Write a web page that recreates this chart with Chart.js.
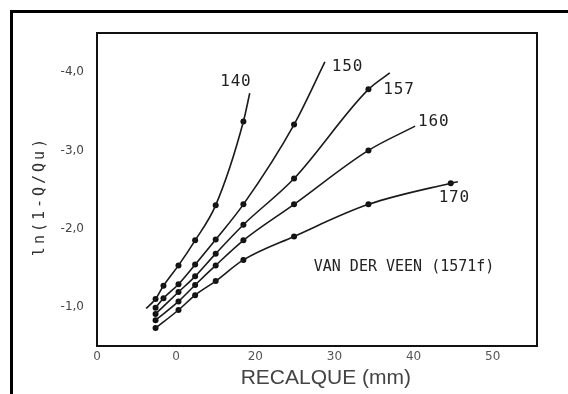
<!DOCTYPE html>
<html>
<head>
<meta charset="utf-8">
<script src="https://cdn.jsdelivr.net/npm/chart.js@4.4.1/dist/chart.umd.min.js"></script>
<style>
  html, body { margin: 0; padding: 0; background: #fff; }
  #wrap { width: 568px; height: 394px; }
</style>
</head>
<body>
<div id="wrap"><canvas id="chart" width="568" height="394"></canvas></div>
<script>
// settlement (mm) of each load step, shared by all curves
const recalque = [7.4, 8.4, 10.3, 12.4, 15.0, 18.5, 24.9, 34.3, 44.7];

// ln(1-Q/Qu) for each assumed ultimate load Qu (null = no point drawn)
const ln140 = [-1.10, -1.27, -1.53, -1.85, -2.30, -3.37];
const ln150 = [-0.99, -1.11, -1.29, -1.54, -1.86, -2.31, -3.33];
const ln157 = [-0.91, null, -1.19, -1.39, -1.68, -2.05, -2.64, -3.78];
const ln160 = [-0.83, null, -1.07, -1.28, -1.53, -1.85, -2.31, -3.00];
const ln170 = [-0.73, null, -0.96, -1.15, -1.33, -1.60, -1.90, -2.31, -2.58];

// the hand drawn curves run a little past the points
const curveStart140 = [6.2, -0.98];
const curveEnd140 = [19.3, -3.73];
const curveEnd150 = [28.8, -4.13];
const curveEnd157 = [37.0, -3.99];
const curveEnd160 = [40.2, -3.31];
const curveEnd170 = [45.6, -2.60];

const xTicks = [0, 10, 20, 30, 40, 50];
const xTickLabels = ['0', '0', '20', '30', '40', '50'];
const yTicks = [-1, -2, -3, -4];

// text written on the plot: [text, x, y] in data units
const curveLabels = [
    ['140', 17.5, -3.88],
    ['150', 31.6, -4.07],
    ['157', 38.1, -3.77],
    ['160', 42.5, -3.36],
    ['170', 45.1, -2.39]
];
const note = ['VAN DER VEEN (1571f)', 38.8, -1.51];

function toPoints(ys) {
    return ys.map((y, i) => y === null ? null : { x: recalque[i], y: y }).filter(p => p);
}

function curve(ys, start, end) {
    const pts = toPoints(ys);
    const out = [];
    if (start) out.push({ x: start[0], y: start[1] });
    pts.forEach(p => out.push(p));
    if (end) out.push({ x: end[0], y: end[1] });
    return out;
}

const lineStyle = {
    showLine: true,
    borderColor: '#1a1a1a',
    borderWidth: 1.6,
    pointRadius: 0,
    cubicInterpolationMode: 'monotone',
    fill: false
};
const dotStyle = {
    showLine: false,
    pointRadius: 3,
    pointBackgroundColor: '#111',
    pointBorderColor: '#111',
    pointBorderWidth: 0
};

const series = [
    [ln140, curveStart140, curveEnd140],
    [ln150, null, curveEnd150],
    [ln157, null, curveEnd157],
    [ln160, null, curveEnd160],
    [ln170, null, curveEnd170]
];

const datasets = [];
series.forEach(s => {
    datasets.push(Object.assign({ data: curve(s[0], s[1], s[2]) }, lineStyle));
});
series.forEach(s => {
    datasets.push(Object.assign({ data: toPoints(s[0]) }, dotStyle));
});

const decor = {
    id: 'decor',
    beforeDraw(chart) {
        const c = chart.ctx;
        c.save();
        c.fillStyle = '#fff';
        c.fillRect(0, 0, chart.width, chart.height);
        c.restore();
    },
    afterDraw(chart) {
        const c = chart.ctx;
        const a = chart.chartArea;
        const xs = chart.scales.x;
        const ys = chart.scales.y;
        c.save();

        // scan frame (top and left only)
        c.fillStyle = '#000';
        c.fillRect(10, 10, chart.width - 10, 3);
        c.fillRect(10, 10, 3, chart.height - 10);

        // plot box
        c.strokeStyle = '#111';
        c.lineWidth = 2;
        c.strokeRect(a.left, a.top, a.right - a.left, a.bottom - a.top);

        c.textAlign = 'center';
        c.textBaseline = 'middle';
        c.fillStyle = '#222';

        c.font = '16px "DejaVu Sans Mono"';
        c.letterSpacing = '0.8px';
        curveLabels.forEach(l => {
            c.fillText(l[0], xs.getPixelForValue(l[1]) + 0.4, ys.getPixelForValue(l[2]));
        });

        c.font = '15px "DejaVu Sans Mono"';
        c.letterSpacing = '0px';
        c.fillText(note[0], xs.getPixelForValue(note[1]), ys.getPixelForValue(note[2]));

        // axis titles
        c.fillStyle = '#444';
        c.font = '21px "Liberation Sans"';
        c.fillText('RECALQUE (mm)', a.left + (a.right - a.left) * 0.52, a.bottom + 32);

        c.fillStyle = '#333';
        c.font = '15px "DejaVu Sans Mono"';
        c.letterSpacing = '3px';
        c.translate(40, (a.top + a.bottom) / 2 + 8);
        c.rotate(-Math.PI / 2);
        c.fillText('ln(1-Q/Qu)', 1.5, 0);

        c.restore();
    }
};

new Chart(document.getElementById('chart'), {
    type: 'scatter',
    data: { datasets: datasets },
    options: {
        responsive: false,
        animation: false,
        devicePixelRatio: 1,
        layout: { padding: { left: 0, top: 33, right: 31, bottom: 0 } },
        plugins: {
            legend: { display: false },
            tooltip: { enabled: false }
        },
        scales: {
            x: {
                type: 'linear',
                min: 0,
                max: 55.6,
                grid: { display: false, drawTicks: false },
                border: { display: false },
                afterBuildTicks: s => { s.ticks = xTicks.map(v => ({ value: v })); },
                afterFit: s => { s.height = 48; },
                ticks: {
                    padding: 4,
                    color: '#555',
                    font: { family: 'DejaVu Sans', size: 12 },
                    maxRotation: 0,
                    callback: (v, i) => xTickLabels[i]
                }
            },
            y: {
                type: 'linear',
                reverse: true,
                min: -4.5,
                max: -0.5,
                grid: { display: false, drawTicks: false },
                border: { display: false },
                afterBuildTicks: s => { s.ticks = yTicks.map(v => ({ value: v })); },
                afterFit: s => { s.width = 97; },
                ticks: {
                    padding: 13,
                    color: '#444',
                    font: { family: 'DejaVu Sans', size: 12 },
                    callback: v => v.toFixed(1).replace('.', ',')
                }
            }
        }
    },
    plugins: [decor]
});
</script>
</body>
</html>
